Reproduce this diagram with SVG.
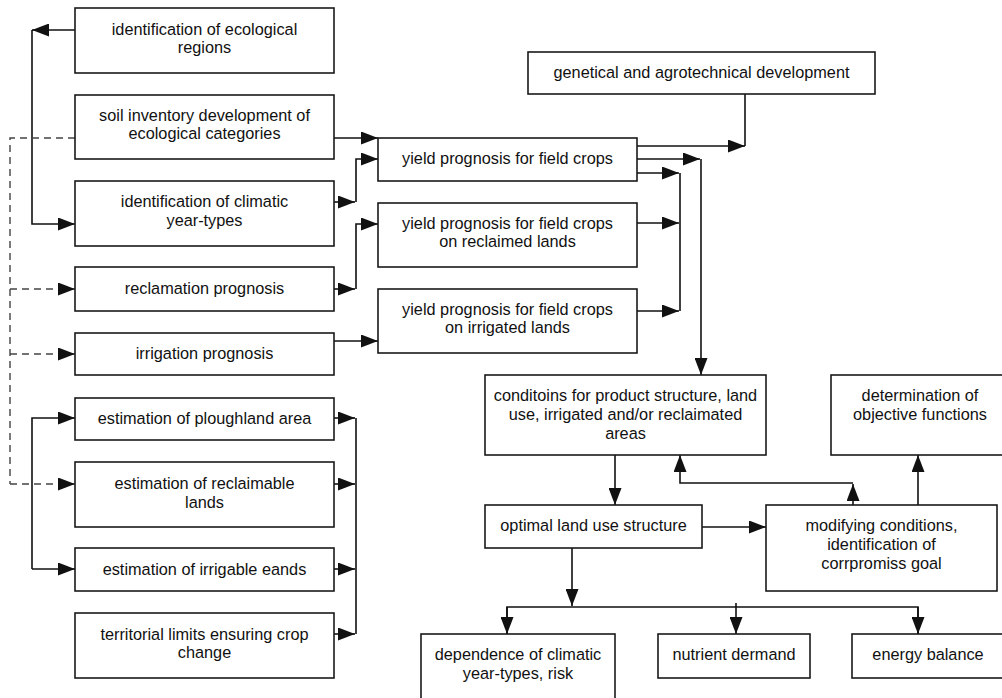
<svg xmlns="http://www.w3.org/2000/svg" width="1002" height="698" viewBox="0 0 1002 698">
<defs>
<marker id="ah" markerUnits="userSpaceOnUse" markerWidth="17" markerHeight="13" refX="17" refY="6.5" orient="auto">
<path d="M0,0 L17,6.5 L0,13 z" fill="#111"/>
</marker>
<style>
rect{fill:#fff;stroke:#1a1a1a;stroke-width:1.6}
text{font-family:"Liberation Sans",Arial,sans-serif;font-size:16.3px;fill:#111;text-anchor:middle}
.c{fill:none;stroke:#111;stroke-width:1.6}
.a{marker-end:url(#ah)}
.d{fill:none;stroke:#444;stroke-width:1.4;stroke-dasharray:7,5}
</style>
</defs>
<rect width="1002" height="698" fill="#fff" style="stroke:none"/>

<g id="connectors">
<!-- left top -->
<line class="c a" x1="75" y1="30" x2="32" y2="30"/>
<polyline class="c a" points="32,30 32,224 75,224"/>
<!-- dashed -->
<polyline class="d" points="75,138 10,138 10,484"/>
<line class="d a" x1="10" y1="289" x2="75" y2="289"/>
<line class="d a" x1="10" y1="354" x2="75" y2="354"/>
<line class="d a" x1="10" y1="484" x2="75" y2="484"/>
<!-- to yield -->
<line class="c a" x1="334" y1="138" x2="378" y2="138"/>
<line class="c a" x1="334" y1="202" x2="355" y2="202"/>
<polyline class="c a" points="356,202 356,159 378,159"/>
<line class="c a" x1="334" y1="289" x2="355" y2="289"/>
<polyline class="c a" points="356,289 356,224 378,224"/>
<line class="c a" x1="334" y1="341" x2="378" y2="341"/>
<!-- lower left -->
<polyline class="c a" points="32,569 32,418 75,418"/>
<line class="c a" x1="32" y1="569" x2="75" y2="569"/>
<line class="c a" x1="334" y1="418" x2="355" y2="418"/>
<line class="c a" x1="334" y1="484" x2="355" y2="484"/>
<line class="c a" x1="334" y1="569" x2="355" y2="569"/>
<line class="c a" x1="334" y1="634" x2="355" y2="634"/>
<line class="c" x1="356" y1="418" x2="356" y2="634"/>
<!-- yield outputs -->
<line class="c a" x1="637" y1="146" x2="745" y2="146"/>
<line class="c" x1="745" y1="94" x2="745" y2="146"/>
<line class="c a" x1="637" y1="159" x2="700" y2="159"/>
<line class="c a" x1="701" y1="159" x2="701" y2="375"/>
<line class="c a" x1="637" y1="173" x2="679" y2="173"/>
<line class="c" x1="680" y1="173" x2="680" y2="311"/>
<line class="c a" x1="637" y1="223" x2="679" y2="223"/>
<line class="c a" x1="637" y1="311" x2="679" y2="311"/>
<!-- lower right -->
<line class="c a" x1="615" y1="455" x2="615" y2="505"/>
<line class="c a" x1="702" y1="527" x2="766" y2="527"/>
<line class="c a" x1="853" y1="505" x2="853" y2="484"/>
<polyline class="c a" points="853,483 680,483 680,455"/>
<line class="c a" x1="918" y1="505" x2="918" y2="455"/>
<line class="c a" x1="572" y1="548" x2="572" y2="606"/>
<polyline class="c" points="507,634 507,607 918,607 918,634"/>
<line class="c a" x1="507" y1="607" x2="507" y2="634"/>
<line class="c a" x1="736" y1="603" x2="736" y2="634"/>
<line class="c a" x1="918" y1="607" x2="918" y2="634"/>
</g>

<g id="n1"><rect x="75" y="8" width="259" height="65"/><text x="204.5" y="34.5">identification of ecological</text><text x="204.5" y="53">regions</text></g>
<g id="n2"><rect x="75" y="95" width="259" height="64"/><text x="204.5" y="120.5">soil inventory development of</text><text x="204.5" y="139">ecological categories</text></g>
<g id="n3"><rect x="75" y="181" width="259" height="65"/><text x="204.5" y="207">identification of climatic</text><text x="204.5" y="225.5">year-types</text></g>
<g id="n4"><rect x="75" y="267" width="259" height="44"/><text x="204.5" y="293.5">reclamation prognosis</text></g>
<g id="n5"><rect x="75" y="333" width="259" height="42"/><text x="204.5" y="359">irrigation prognosis</text></g>
<g id="n6"><rect x="75" y="398" width="259" height="42"/><text x="204.5" y="424">estimation of ploughland area</text></g>
<g id="n7"><rect x="75" y="462" width="259" height="65"/><text x="204.5" y="489">estimation of reclaimable</text><text x="204.5" y="507.5">lands</text></g>
<g id="n8"><rect x="75" y="548" width="259" height="43"/><text x="204.5" y="574.5">estimation of irrigable eands</text></g>
<g id="n9"><rect x="75" y="613" width="259" height="65"/><text x="204.5" y="639.5">territorial limits ensuring crop</text><text x="204.5" y="658">change</text></g>

<g id="n10"><rect x="528" y="52" width="347" height="42"/><text x="701.5" y="78">genetical and agrotechnical development</text></g>
<g id="n11"><rect x="378" y="138" width="259" height="43"/><text x="507.5" y="163.5">yield prognosis for field crops</text></g>
<g id="n12"><rect x="378" y="203" width="259" height="64"/><text x="507.5" y="228.5">yield prognosis for field crops</text><text x="507.5" y="247">on reclaimed lands</text></g>
<g id="n13"><rect x="378" y="289" width="259" height="64"/><text x="507.5" y="314.5">yield prognosis for field crops</text><text x="507.5" y="333">on irrigated lands</text></g>

<g id="n14"><rect x="485" y="375" width="281" height="80"/><text x="625.5" y="401">conditoins for product structure, land</text><text x="625.5" y="420">use, irrigated and/or reclaimated</text><text x="625.5" y="439">areas</text></g>
<g id="n15"><rect x="831" y="375" width="180" height="80"/><text x="920" y="401">determination of</text><text x="920" y="420">objective functions</text></g>
<g id="n16"><rect x="485" y="505" width="217" height="43"/><text x="593.5" y="531">optimal land use structure</text></g>
<g id="n17"><rect x="766" y="505" width="231" height="86"/><text x="881.5" y="531">modifying conditions,</text><text x="881.5" y="550">identification of</text><text x="881.5" y="569">corrpromiss goal</text></g>
<g id="n18"><rect x="421" y="634" width="194" height="80"/><text x="518" y="660">dependence of climatic</text><text x="518" y="679">year-types, risk</text></g>
<g id="n19"><rect x="658" y="634" width="152" height="44"/><text x="734" y="660">nutrient dermand</text></g>
<g id="n20"><rect x="852" y="634" width="160" height="44"/><text x="928" y="660">energy balance</text></g>
</svg>
